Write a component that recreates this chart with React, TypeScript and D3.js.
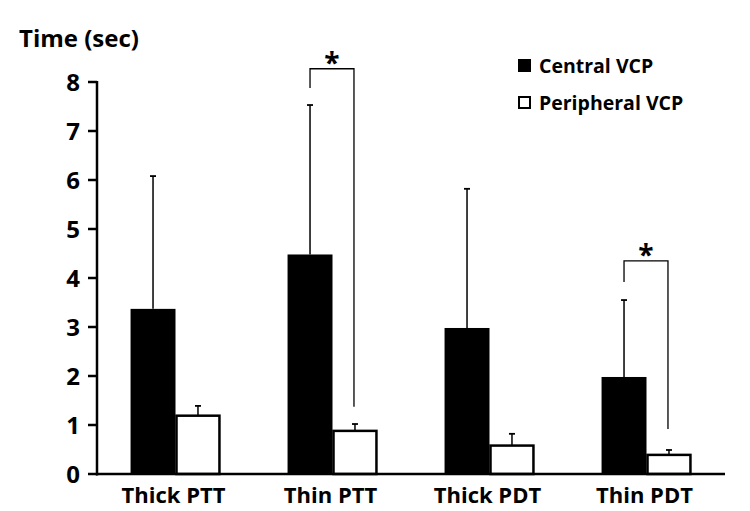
import React from "react";
import * as d3 from "d3";

const categories = ["Thick PTT", "Thin PTT", "Thick PDT", "Thin PDT"];
const seriesNames = ["Central VCP", "Peripheral VCP"];
const centralMeans = [3.37, 4.48, 2.98, 1.98];
const centralErr = [6.08, 7.53, 5.82, 3.55];
const peripheralMeans = [1.19, 0.88, 0.58, 0.39];
const peripheralErr = [1.39, 1.02, 0.82, 0.49];
const yTicks = [0, 1, 2, 3, 4, 5, 6, 7, 8];
// significance brackets: category index, top value, left end value, right end value
const sigCats = [1, 3];
const sigTop = [8.27, 4.35];
const sigLeftEnd = [7.88, 3.92];
const sigRightEnd = [1.37, 0.92];

const W = 750;
const H = 511;
const FONT = "'Open Sans', 'Noto Sans', sans-serif";

export default function App() {
  const x0 = d3.scaleBand<string>().domain(categories).range([97, 725]).paddingInner(0.4274).paddingOuter(0.2137);
  const x1 = d3.scaleBand<string>().domain(seriesNames).range([0, x0.bandwidth()]);
  const y = d3.scaleLinear().domain([0, 8]).range([474, 82]);
  const bw = x1.bandwidth();

  return (
    <svg width={W} height={H} style={{ position: "absolute", left: 0, top: 0, background: "#fff" }}>
      <rect x={0} y={0} width={W} height={H} fill="#fff" />
      <text x={19} y={47} fontFamily={FONT} fontWeight={700} fontSize={24} fill="#000">Time (sec)</text>

      {/* bars */}
      {categories.map((c, i) => {
        const xc = (x0(c) as number) + (x1(seriesNames[0]) as number);
        const xp = (x0(c) as number) + (x1(seriesNames[1]) as number);
        return (
          <g key={c}>
            <line x1={xc + bw / 2} x2={xc + bw / 2} y1={y(centralMeans[i])} y2={y(centralErr[i])} stroke="#000" strokeWidth={1.5} />
            <line x1={xc + bw / 2 - 3} x2={xc + bw / 2 + 3} y1={y(centralErr[i])} y2={y(centralErr[i])} stroke="#000" strokeWidth={1.8} />
            <rect x={xc} y={y(centralMeans[i])} width={bw} height={y(0) - y(centralMeans[i])} fill="#000" />
            <line x1={xp + bw / 2} x2={xp + bw / 2} y1={y(peripheralMeans[i])} y2={y(peripheralErr[i])} stroke="#000" strokeWidth={1.5} />
            <line x1={xp + bw / 2 - 3} x2={xp + bw / 2 + 3} y1={y(peripheralErr[i])} y2={y(peripheralErr[i])} stroke="#000" strokeWidth={1.8} />
            <rect x={xp + 1} y={y(peripheralMeans[i])} width={bw - 2} height={y(0) - y(peripheralMeans[i])} fill="#fff" stroke="#000" strokeWidth={2.5} />
          </g>
        );
      })}

      {/* significance brackets */}
      {sigCats.map((ci, k) => {
        const c = categories[ci];
        const lx = (x0(c) as number) + (x1(seriesNames[0]) as number) + bw / 2;
        const rx = (x0(c) as number) + (x1(seriesNames[1]) as number) + bw / 2 - 1;
        return (
          <g key={"sig" + k}>
            <path
              d={`M${lx},${y(sigLeftEnd[k])}V${y(sigTop[k])}H${rx}V${y(sigRightEnd[k])}`}
              fill="none"
              stroke="#000"
              strokeWidth={1.3}
            />
            <text x={(lx + rx) / 2} y={y(sigTop[k]) + 4} textAnchor="middle" fontFamily={FONT} fontWeight={700} fontSize={28} fill="#000">*</text>
          </g>
        );
      })}

      {/* y axis */}
      <line x1={97} x2={97} y1={y(8) - 1} y2={y(0) + 1.5} stroke="#000" strokeWidth={2.5} />
      {yTicks.map((t) => (
        <g key={t}>
          <line x1={88} x2={97} y1={y(t)} y2={y(t)} stroke="#000" strokeWidth={2.5} />
          <text x={80} y={y(t)} dy="0.36em" textAnchor="end" fontFamily={FONT} fontWeight={700} fontSize={24} fill="#000">{t}</text>
        </g>
      ))}

      {/* x axis */}
      <line x1={96} x2={725} y1={y(0)} y2={y(0)} stroke="#000" strokeWidth={2.5} />
      {categories.map((c) => (
        <text key={c} x={(x0(c) as number) + x0.bandwidth() / 2 - 2} y={503} textAnchor="middle" fontFamily={FONT} fontWeight={700} fontSize={22} fill="#000">{c}</text>
      ))}

      {/* legend */}
      <rect x={518} y={59} width={13} height={13} fill="#000" />
      <text x={539} y={73} fontFamily={FONT} fontWeight={700} fontSize={19.5} fill="#000">{seriesNames[0]}</text>
      <rect x={519} y={97} width={11} height={11} fill="#fff" stroke="#000" strokeWidth={2} />
      <text x={539} y={110} fontFamily={FONT} fontWeight={700} fontSize={19.5} fill="#000">{seriesNames[1]}</text>
    </svg>
  );
}
